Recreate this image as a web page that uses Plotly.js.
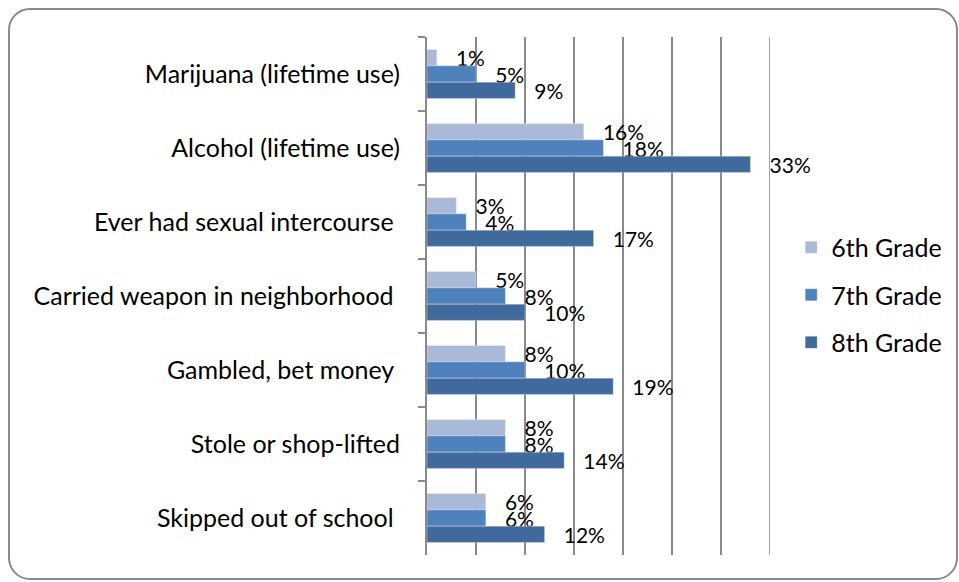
<!DOCTYPE html>
<html>
<head>
<meta charset="utf-8">
<script src="https://cdn.plot.ly/plotly-3.0.1.min.js"></script>
<style>
  html, body { margin: 0; padding: 0; background: #fff; }
  #wrap { position: relative; width: 959px; height: 582px; }
  #chart { position: absolute; left: 0; top: 0; width: 959px; height: 582px; }
  #frame { position: absolute; left: 8px; top: 8px; width: 946px; height: 568px;
           border: 2px solid #8a8a8a; border-radius: 22px; pointer-events: none; }
</style>
</head>
<body>
<div id="wrap">
  <div id="chart"></div>
  <div id="frame"></div>
</div>
<script>
const categories = [
  "Marijuana (lifetime use)",
  "Alcohol (lifetime use)",
  "Ever had sexual intercourse\u00a0",
  "Carried weapon in neighborhood\u00a0",
  "Gambled, bet money\u00a0",
  "Stole or shop-lifted",
  "Skipped out of school\u00a0"
];
const seriesNames = ["6th Grade", "7th Grade", "8th Grade"];
const grade6 = [1, 16, 3, 5, 8, 8, 6];
const grade7 = [5, 18, 4, 8, 10, 8, 6];
const grade8 = [9, 33, 17, 10, 19, 14, 12];
const colors = ["#AAB9D8", "#4F81BD", "#416A9C"];
const xMax = 35;

const FONT = "Lato, 'Noto Sans', sans-serif";
const pad = "\u00a0\u00a0\u00a0";

const traces = [grade6, grade7, grade8].map((vals, i) => ({
  type: "bar",
  orientation: "h",
  name: seriesNames[i],
  legendgroup: "g" + i,
  y: categories,
  x: vals,
  text: vals.map(v => pad + v + "%"),
  textposition: "outside",
  constraintext: "none",
  cliponaxis: false,
  textfont: { family: FONT, size: 21, color: "#000" },
  marker: { color: colors[i], line: { color: "rgba(255,255,255,0.6)", width: 0.5 } },
  hoverinfo: "skip"
}));

const layout = {
  width: 959, height: 582,
  margin: { l: 427, r: 189, t: 37, b: 27, autoexpand: false },
  paper_bgcolor: "rgba(0,0,0,0)",
  plot_bgcolor: "rgba(0,0,0,0)",
  barmode: "group",
  bargap: 0.34,
  bargroupgap: 0,
  showlegend: true,
  legend: {
    xref: "container", yref: "container",
    x: 0.825, xanchor: "left", y: 0.493, yanchor: "middle",
    traceorder: "grouped", tracegroupgap: 12,
    font: { family: FONT, size: 25, color: "#000" },
    itemwidth: 30,
    itemclick: false, itemdoubleclick: false
  },
  xaxis: {
    range: [0, xMax], dtick: 5, tick0: 0,
    showticklabels: false, showgrid: true,
    gridcolor: "#8a8a8a", gridwidth: 1.5,
    zeroline: false, showline: false, ticks: "", fixedrange: true
  },
  yaxis: {
    type: "category", autorange: "reversed",
    showline: true, linecolor: "#8a8a8a", linewidth: 2,
    ticks: "outside", ticklen: 7, tickcolor: "#8a8a8a", tickwidth: 2,
    tickson: "boundaries", ticklabelstandoff: 20,
    showgrid: false, zeroline: false,
    tickfont: { family: FONT, size: 25, color: "#000" },
    fixedrange: true
  },
  shapes: [{
    type: "line", xref: "x", yref: "paper",
    x0: xMax, x1: xMax, y0: 0, y1: 1,
    line: { color: "#8a8a8a", width: 1.5 }, layer: "below"
  }],
  hovermode: false,
  font: { family: FONT }
};

Plotly.newPlot("chart", traces, layout, { displayModeBar: false, staticPlot: true });
</script>
</body>
</html>
